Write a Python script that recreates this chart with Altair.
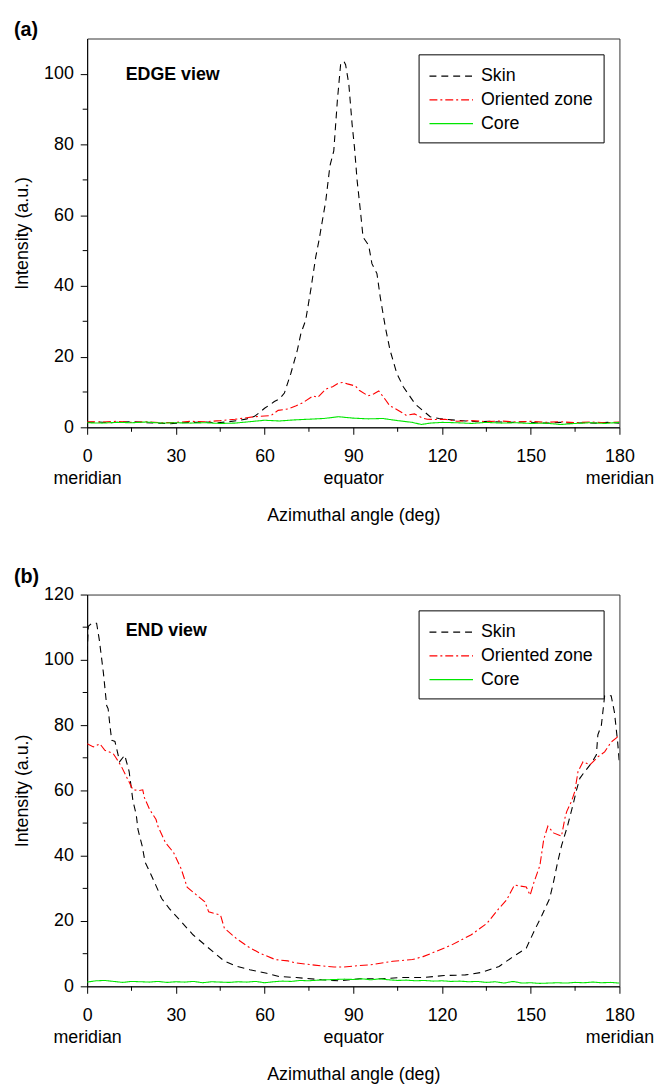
import altair as alt
import pandas as pd

FONT = "Liberation Sans"

series_names = ["Skin", "Oriented zone", "Core"]
series_colors = ["#000000", "#ff0000", "#00e600"]
series_dashes = [[7, 5], [8, 3, 2, 3], [1, 0]]

x_major = [0, 30, 60, 90, 120, 150, 180]
x_minor = [15, 45, 75, 105, 135, 165]

# ---------------- (a) EDGE view ----------------
a_skin_x = [0, 4, 8, 12, 16, 20, 24, 28, 32, 36, 40, 44, 48, 51, 54, 56.6, 58, 60, 62, 63.3, 65,
            66.7, 68.9, 71.1, 72.3, 73.9, 75.6, 77.3, 78.4, 80.7, 82.1, 83.4, 84.6, 85.7, 86.8,
            87.4, 88.5, 89.6, 90.4, 91.3, 92.4, 93.3, 95.2, 96.3, 98, 99.1, 100.8, 102.4, 104.7,
            106.9, 109.2, 111, 113.6, 116, 119, 122, 125, 128, 132, 136, 140, 144, 148, 152, 156,
            160, 164, 168, 172, 176, 180]
a_skin_y = [1.4, 1.5, 1.3, 1.5, 1.6, 1.3, 1.2, 1.0, 1.3, 1.4, 1.5, 1.3, 1.6, 1.9, 2.4, 3.1, 4.0, 5.4, 6.5, 7.3, 8.0,
            9.7, 15.3, 21.9, 26.6, 30.3, 38.8, 48.2, 52.9, 64.1, 74.0, 78.2, 92.3, 102.6, 103.6,
            102.6, 97.0, 85.7, 79.2, 69.8, 61.3, 53.8, 51.5, 46.3, 43.5, 36.9, 28.5, 21.9, 15.3,
            11.5, 8.7, 6.5, 4.7, 3.0, 2.5, 2.2, 2.0, 1.8, 1.6, 1.7, 1.5, 1.4, 1.6, 1.3, 1.2,
            1.4, 1.1, 1.3, 1.2, 1.4, 1.2]

a_zone_x = [0, 5, 10, 15, 20, 25, 30, 35, 40, 45, 50, 53, 56.4, 60, 62.1, 64.6, 67.9, 70.7, 73, 76.4,
            78, 80.7, 83, 85, 86.4, 88, 90.7, 92, 95, 97, 98.6, 100.7, 102.4, 103.6, 106.4, 107.9,
            110.7, 113.5, 115, 118, 121, 125, 130, 135, 140, 145, 150, 155, 160, 165, 170, 175, 180]
a_zone_y = [1.6, 1.5, 1.7, 1.4, 1.6, 1.3, 1.4, 1.7, 1.6, 1.9, 2.3, 2.6, 3.0, 3.2, 3.3, 4.8, 5.2, 6.1, 7.0, 8.9,
            8.5, 10.8, 11.5, 12.5, 12.7, 12.3, 11.7, 10.5, 8.9, 9.5, 10.3, 8.0, 6.0, 5.6, 4.2, 3.4,
            3.8, 2.6, 2.3, 2.2, 2.3, 1.7, 1.9, 1.6, 1.8, 1.5, 1.7, 1.4, 1.6, 1.3, 1.5, 1.3, 1.5]

a_core_x = [0, 5, 10, 15, 20, 25, 30, 35, 40, 45, 50, 55, 60, 65, 70, 75, 80, 85, 90, 95, 100, 105,
            110, 113, 116, 120, 125, 130, 135, 140, 145, 150, 155, 160, 165, 170, 175, 180]
a_core_y = [1.3, 1.2, 1.4, 1.3, 1.5, 1.2, 1.3, 1.2, 1.3, 1.1, 1.2, 1.6, 2.0, 1.8, 2.1, 2.3, 2.5, 3.0, 2.6, 2.4, 2.5, 1.9,
            1.4, 0.8, 1.2, 1.4, 1.3, 1.1, 1.4, 1.2, 1.3, 1.1, 1.2, 0.8, 1.1, 1.3, 1.1, 1.4]

# ---------------- (b) END view ----------------
b_skin_x = [0, 0.4, 1.6, 3.2, 4.1, 5.5, 6.6, 7.1, 7.7, 8.3, 9.4, 11, 12.7, 14.2, 15.5, 16.6, 17.2, 18.6,
            19.6, 21.2, 23.2, 25.2, 27.8, 31.8, 35.8, 39.8, 43.1, 46.4, 50.4, 55, 60.7, 65, 70.7,
            79.3, 85, 92, 99, 106.4, 113.6, 120.7, 127.9, 133.6, 139.3, 143.6, 148.5, 151.1, 153.8,
            156.4, 157.7, 159.1, 160.4, 162.4, 164.4, 165.5, 166.6, 168.3, 170.5, 172.2, 172.7,
            173.9, 175, 177.2, 178.3, 179.4, 180]
b_skin_y = [102, 110.3, 111.2, 111.2, 106.2, 96, 86, 85, 79.9, 75.4, 75, 68.8, 70.8, 65.8, 56.7, 52.6, 48, 43,
            38, 35, 31, 26.9, 23.8, 19.8, 15.8, 12.7, 10.2, 7.7, 6.2, 5.1, 4.0, 3.0, 2.7,
            2.0, 1.7, 2.3, 2.3, 2.7, 2.7, 3.3, 3.5, 4.3, 6.1, 8.8, 11.7, 16.8, 21.8,
            26.9, 31.9, 38, 43, 49, 56, 60.2, 63.7, 65.8, 68.3, 70.9, 77,
            80, 89, 89, 84, 74.8, 68]

b_zone_x = [0, 2.1, 4.3, 6, 8.8, 9.9, 11.6, 13.3, 15.5, 17.7, 18.8, 19.4, 21.1, 23.3, 23.9, 26.5, 29.2,
            31.8, 33.8, 37.1, 39.8, 41.1, 45.1, 46.4, 50.4, 54.3, 58.3, 63.6, 67.9, 70.3, 76.9, 83.5,
            86.4, 90.1, 96.8, 103.4, 110, 113.6, 116.6, 123.3, 129.9, 135.2, 139.2, 141.8, 144.5,
            148.5, 149.8, 151.1, 153.1, 154.4, 155.8, 157.7, 160.4, 161.7, 162.2, 163.8, 164.9, 166,
            167.7, 170, 172.7, 175, 177.2, 179.4, 180]
b_zone_y = [74.3, 73.3, 74.3, 72.3, 71.3, 69.8, 67.3, 64.2, 60.2, 60, 60.2, 57.7, 54.2, 51.1, 49.1, 44, 41,
            36, 30.4, 27.9, 25.9, 22.8, 21.8, 17.8, 14.7, 12.2, 10.2, 8.2, 7.8, 7.2, 6.5, 5.9,
            5.9, 6.2, 6.7, 7.7, 8.2, 9.1, 10.2, 12.7, 15.8, 19.3, 23.8, 26.4, 31,
            30.4, 27.9, 31.9, 37, 45, 49.1, 47, 46, 52.1, 53.6, 56.7, 59.7, 65.8,
            68.8, 67.8, 70.3, 71.8, 74.8, 76.4, 76]

b_core_x = [0, 3, 6, 9, 12, 15, 18, 21, 24, 27, 30, 33, 36, 39, 42, 45, 48, 51, 54, 57, 60, 63, 66, 69,
            72, 75, 78, 81, 84, 87, 90, 93, 96, 99, 102, 105, 108, 111, 114, 117, 120, 123, 126, 129,
            132, 135, 138, 141, 144, 147, 150, 153, 156, 159, 162, 165, 168, 171, 174, 177, 180]
b_core_y = [1.3, 1.7, 1.8, 1.5, 1.2, 1.5, 1.4, 1.3, 1.5, 1.2, 1.4, 1.3, 1.5, 1.1, 1.4, 1.3, 1.2, 1.4, 1.3, 1.5,
            1.1, 1.4, 1.6, 1.5, 1.8, 1.7, 1.9, 2.0, 2.1, 2.2, 2.1, 2.3, 2.0, 2.3, 2.0, 1.8, 1.9, 1.7, 1.8,
            1.6, 1.7, 1.5, 1.6, 1.4, 1.5, 1.2, 1.4, 1.0, 1.5, 1.0, 1.1, 0.9, 1.0, 1.1, 1.0, 1.2, 1.1, 1.3,
            1.1, 1.2, 1.0]


def long_df(parts):
    rows = []
    for name, xs, ys in parts:
        for x, y in zip(xs, ys):
            rows.append({"angle": x, "intensity": y, "series": name})
    return pd.DataFrame(rows)


W = 538
LABEL_EXPR = ("datum.value == 0 ? ['0', 'meridian'] : datum.value == 90 ? ['90', 'equator'] : "
              "datum.value == 180 ? ['180', 'meridian'] : datum.label")


def panel(df, ymax, H, y_major, y_minor, tag, view_text):
    xs = alt.Scale(domain=[0, 180], nice=False, zero=False)
    ys = alt.Scale(domain=[0, ymax], nice=False)
    x_axis = alt.Axis(values=x_major, title="Azimuthal angle (deg)", labelExpr=LABEL_EXPR,
                      tickSize=7, labelPadding=14, labelLineHeight=22, titlePadding=19,
                      labelFlush=False, labelOverlap=False, grid=False)
    y_axis = alt.Axis(values=y_major, title="Intensity (a.u.)", tickSize=7, labelPadding=7,
                      titlePadding=12, labelFlush=False, labelOverlap=False, grid=False)
    lines = alt.Chart(df).mark_line(strokeWidth=1.1, clip=True).encode(
        x=alt.X("angle:Q", scale=xs, axis=x_axis),
        y=alt.Y("intensity:Q", scale=ys, axis=y_axis),
        color=alt.Color("series:N", scale=alt.Scale(domain=series_names, range=series_colors),
                        legend=alt.Legend(title=None)),
        strokeDash=alt.StrokeDash("series:N", scale=alt.Scale(domain=series_names, range=series_dashes),
                                  legend=alt.Legend(title=None)),
    )
    xt = alt.Chart(pd.DataFrame({"m": x_minor})).mark_rule(color="black", strokeWidth=1).encode(
        x=alt.X("m:Q", scale=xs, axis=x_axis), y=alt.value(H), y2=alt.value(H + 4.5))
    yt = alt.Chart(pd.DataFrame({"n": y_minor})).mark_rule(color="black", strokeWidth=1).encode(
        y=alt.Y("n:Q", scale=ys, axis=y_axis), x=alt.value(0), x2=alt.value(-4.5))
    txt = alt.Chart(pd.DataFrame({"t": [view_text]})).mark_text(
        align="left", baseline="middle", fontSize=18, fontWeight="bold", font=FONT, color="black"
    ).encode(text="t:N", x=alt.value(39), y=alt.value(37))
    return alt.layer(lines, xt, yt, txt).properties(
        width=W, height=H,
        title=alt.TitleParams(tag, anchor="start", frame="bounds", fontSize=20, fontWeight="bold",
                              font=FONT, color="black", offset=-1),
    )


df_a = long_df([("Skin", a_skin_x, a_skin_y), ("Oriented zone", a_zone_x, a_zone_y), ("Core", a_core_x, a_core_y)])
df_b = long_df([("Skin", b_skin_x, b_skin_y), ("Oriented zone", b_zone_x, b_zone_y), ("Core", b_core_x, b_core_y)])

top = panel(df_a, 110, 393, [0, 20, 40, 60, 80, 100], [10, 30, 50, 70, 90], "(a)", "EDGE view")
bottom = panel(df_b, 120, 396, [0, 20, 40, 60, 80, 100, 120], [10, 30, 50, 70, 90, 110], "(b)", "END view")

chart = alt.vconcat(top, bottom, spacing=41).resolve_legend(
    color="independent", strokeDash="independent"
).configure(background="white", padding=5).configure_view(
    stroke="#333", strokeWidth=1
).configure_axis(
    domainColor="black", tickColor="black", labelColor="black", titleColor="black",
    labelFont=FONT, titleFont=FONT, labelFontSize=18, titleFontSize=18, titleFontWeight="normal",
    domainWidth=1, tickWidth=1,
).configure_legend(
    orient="top-right", offset=16, strokeColor="black", fillColor="white", padding=10,
    symbolType="M-1,0H3", symbolSize=484, symbolStrokeWidth=1.2, labelFont=FONT, labelFontSize=18,
    labelColor="black", rowPadding=3, labelOffset=29, cornerRadius=0,
)

chart.save("out.html", embed_options={"renderer": "svg", "actions": False})
